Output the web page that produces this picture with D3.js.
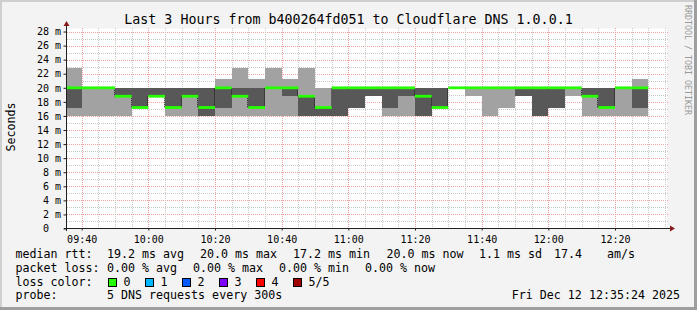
<!DOCTYPE html>
<meta charset="utf-8">
<style>
body { margin: 0; background: #f3f3f3; }
svg { display: block; }
text { font-family: "DejaVu Sans Mono", monospace; fill: #000; white-space: pre; }
</style>
<body>
<script src="https://cdn.jsdelivr.net/npm/d3@7"></script>
<script>
// 5 minute slots, start time of each slot
var slots = ["09:35","09:40","09:45","09:50","09:55","10:00","10:05","10:10","10:15","10:20",
  "10:25","10:30","10:35","10:40","10:45","10:50","10:55","11:00","11:05","11:10",
  "11:15","11:20","11:25","11:30","11:35","11:40","11:45","11:50","11:55","12:00",
  "12:05","12:10","12:15","12:20","12:25"];

// sorted pings per slot (ms): lowest .. highest
var ping1 = [16,16,16,16,17.2,18.8,16,16,16,16,16,16,16,16,16,16,16,17.2,18.8,16,16,16,17.2,20,18.8,16,17.2,18.8,16,17.2,18.8,16,16,16,16];
var ping2 = [17.2,20,20,18.8,17.2,18.8,17.2,18.8,16,17.2,18.8,17.2,20,18.8,16,16,16,17.2,18.8,17.2,18.8,16,17.2,20,20,20,20,18.8,16,17.2,20,18.8,17.2,20,17.2];
var median = [20,20,20,18.8,17.2,18.8,17.2,18.8,17.2,20,18.8,17.2,20,20,18.8,17.2,20,20,20,20,20,18.8,17.2,20,20,20,20,20,20,20,20,18.8,17.2,20,20];
var ping4 = [20,20,20,20,20,20,20,20,20,20,20,20,20,20,18.8,17.2,20,20,20,20,20,20,20,20,20,20,20,20,20,20,20,20,20,20,20];
var ping5 = [22.8,20,20,20,20,20,20,20,20,21.2,22.8,21.2,22.8,21.2,22.8,20,20,20,20,20,20,20,20,20,20,20,20,20,20,20,20,20,20,20,21.2];

var yTicks = [0,2,4,6,8,10,12,14,16,18,20,22,24,26,28];

var title = "Last 3 Hours from b400264fd051 to Cloudflare DNS 1.0.0.1";
var lossLabels = ["0","1","2","3","4","5/5"];
var lossColors = ["#26ff00","#00b8ff","#0059ff","#7e00ff","#ff0000","#a10000"];

var W = 697, H = 310;
var parse = d3.timeParse("%Y-%m-%d %H:%M");
var tEnd = new Date(2025, 11, 12, 12, 35, 36);
var tStart = d3.timeHour.offset(tEnd, -3);

var x = d3.scaleTime().domain([tStart, tEnd]).range([67, 667]);
var y = d3.scaleLinear().domain([0, 28.43]).range([228.5, 28.5]);

var data = slots.map(function(s, i) {
  var t0 = parse("2025-12-12 " + s);
  return {t0: t0, t1: d3.timeMinute.offset(t0, 5),
    p1: ping1[i], p2: ping2[i], med: median[i], p4: ping4[i], p5: ping5[i]};
});

var svg = d3.select("body").append("svg").attr("width", W).attr("height", H);

// background + 3d border
svg.append("rect").attr("width", W).attr("height", H).attr("fill", "#f3f3f3");
svg.append("path").attr("d", "M0,0H697V2H2V310H0Z").attr("fill", "#cfcfcf");
svg.append("path").attr("d", "M697,0V310H0V307H694V0Z").attr("fill", "#9e9e9e");

svg.append("rect").attr("x", 67).attr("y", 28.5).attr("width", 600).attr("height", 200).attr("fill", "#fff");

svg.append("text").attr("x", 348.5).attr("y", 24).attr("text-anchor", "middle")
  .style("font-size", "13.3px").text(title);

svg.append("text").attr("transform", "translate(684.5,5) rotate(90)")
  .style("font-size", "8.3px").style("fill", "#999").text("RRDTOOL / TOBI OETIKER");

svg.append("text").attr("transform", "translate(15,127) rotate(-90)").attr("text-anchor", "middle")
  .style("font-size", "11.65px").text("Seconds");

// grid
var grid = svg.append("g");
d3.range(1, 29).forEach(function(v) {
  grid.append("line").attr("x1", 67).attr("x2", 668).attr("y1", Math.round(y(v)) + 0.5).attr("y2", Math.round(y(v)) + 0.5)
    .attr("stroke", v % 2 ? "#c8c8c8" : "#f2a0a0").attr("stroke-dasharray", "1,1");
});
x.ticks(d3.timeMinute.every(5)).forEach(function(t) {
  var major = t.getMinutes() % 20 == 0;
  grid.append("line").attr("x1", Math.round(x(t)) + 0.5).attr("x2", Math.round(x(t)) + 0.5).attr("y1", 28).attr("y2", 228)
    .attr("stroke", major ? "#f2a0a0" : "#c8c8c8").attr("stroke-dasharray", "1,1");
});

// smoke
var plot = svg.append("g");
svg.append("clipPath").attr("id", "clip").append("rect").attr("x", 67).attr("y", 20).attr("width", 600).attr("height", 210);
plot.attr("clip-path", "url(#clip)");

plot.selectAll(".outer").data(data).enter().append("rect")
  .attr("x", function(d) { return x(d.t0); })
  .attr("width", function(d) { return x(d.t1) - x(d.t0); })
  .attr("y", function(d) { return y(d.p5); })
  .attr("height", function(d) { return y(d.p1) - y(d.p5); })
  .attr("fill", "#a2a2a2").attr("shape-rendering", "crispEdges");

plot.selectAll(".inner").data(data).enter().append("rect")
  .attr("x", function(d) { return x(d.t0); })
  .attr("width", function(d) { return x(d.t1) - x(d.t0); })
  .attr("y", function(d) { return y(d.p4); })
  .attr("height", function(d) { return y(d.p2) - y(d.p4); })
  .attr("fill", "#585858").attr("shape-rendering", "crispEdges");

// steps between medians
data.forEach(function(d, i) {
  if (i == 0 || data[i - 1].med == d.med) return;
  plot.append("line").attr("x1", Math.round(x(d.t0)) - 0.5).attr("x2", Math.round(x(d.t0)) - 0.5)
    .attr("y1", y(data[i - 1].med)).attr("y2", y(d.med))
    .attr("stroke", "#1a1a1a").attr("stroke-dasharray", "1,1");
});

plot.selectAll(".med").data(data).enter().append("rect")
  .attr("x", function(d) { return x(d.t0); })
  .attr("width", function(d) { return x(d.t1) - x(d.t0); })
  .attr("y", function(d) { return y(d.med) - 1.4; })
  .attr("height", 2.8)
  .attr("fill", lossColors[0]);

// axes
var yAxis = d3.axisLeft(y).tickValues(yTicks).tickSize(3)
  .tickFormat(function(d) { return d ? d + " m" : "0\u00a0\u00a0"; });
var gy = svg.append("g").attr("transform", "translate(66.5,0)").call(yAxis);
gy.select(".domain").remove();
gy.selectAll("line").attr("stroke", "#202020");
gy.selectAll("text").attr("x", -5.5).style("font-size", "10px").style("font-family", "DejaVu Sans Mono");

var xAxis = d3.axisBottom(x).ticks(d3.timeMinute.every(20)).tickSize(2).tickFormat(d3.timeFormat("%H:%M"));
var gx = svg.append("g").attr("transform", "translate(0,228.5)").call(xAxis);
gx.select(".domain").remove();
gx.selectAll("line").attr("stroke", "#202020");
gx.selectAll("text").attr("y", 7).attr("dy", "0.71em").style("font-size", "10px").style("font-family", "DejaVu Sans Mono");

svg.append("line").attr("x1", 64).attr("x2", 671).attr("y1", 228.5).attr("y2", 228.5).attr("stroke", "#202020");
svg.append("line").attr("x1", 66.5).attr("x2", 66.5).attr("y1", 231).attr("y2", 25).attr("stroke", "#202020");
svg.append("path").attr("d", "M670,225.5L675,228.5L670,231.5Z").attr("fill", "#8b1a1a");
svg.append("path").attr("d", "M63.5,26L66.5,21L69.5,26Z").attr("fill", "#8b1a1a");

// legend
var leg = svg.append("g").style("font-size", "11.65px");
function put(xp, yp, s, anchor) {
  leg.append("text").attr("x", xp).attr("y", yp).attr("text-anchor", anchor || "start").text(s);
}
put(15.5, 258, "median rtt:");
put(107, 258, "19.2 ms avg");
put(200, 258, "20.0 ms max");
put(293, 258, "17.2 ms min");
put(386.5, 258, "20.0 ms now");
put(479, 258, "1.1 ms sd");
put(554, 258, "17.4");
put(607, 258, "am/s");

put(15.5, 272, "packet loss:");
put(107, 272, "0.00 % avg");
put(193, 272, "0.00 % max");
put(279, 272, "0.00 % min");
put(365, 272, "0.00 % now");

put(15.5, 285.7, "loss color:");
lossLabels.forEach(function(l, i) {
  var bx = 108.5 + i * 37;
  leg.append("rect").attr("x", bx).attr("y", 278.5).attr("width", 8).attr("height", 8)
    .attr("fill", lossColors[i]).attr("stroke", "#000").attr("stroke-width", 1);
  put(bx + 15, 285.7, l);
});

put(15.5, 299.3, "probe:");
put(107, 299.3, "5 DNS requests every 300s");
put(680, 299.3, "Fri Dec 12 12:35:24 2025", "end");
</script>
</body>
